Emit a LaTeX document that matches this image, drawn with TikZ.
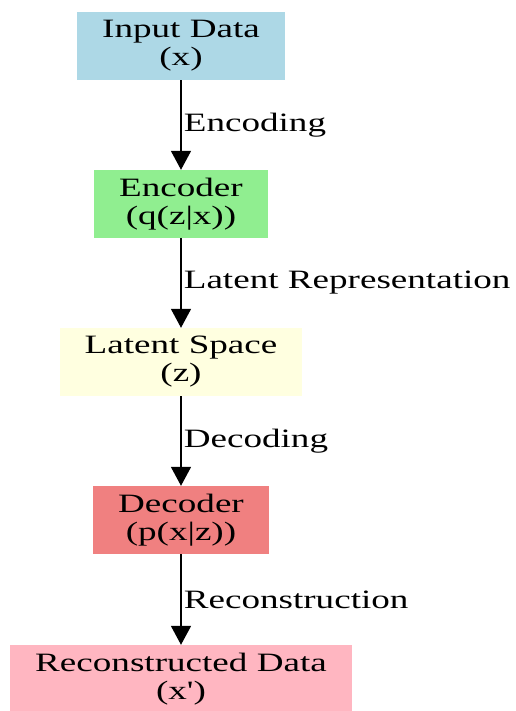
\documentclass[tikz,border=0pt]{standalone}
\usepackage{fontspec}
\setmainfont{Liberation Serif}
\newfontfamily\widefont[FakeStretch=1.4]{Liberation Serif}
\usetikzlibrary{arrows.meta, positioning}

\definecolor{inputblue}{RGB}{173,216,230}
\definecolor{encgreen}{RGB}{144,238,144}
\definecolor{latentyellow}{RGB}{255,255,224}
\definecolor{deccoral}{RGB}{240,128,128}
\definecolor{recpink}{RGB}{255,182,193}

\tikzset{
    stagebox/.style={fill=#1, align=center, minimum height=68pt, inner xsep=25pt,
        inner ysep=0pt, font=\widefont\fontsize{26.5}{28}\selectfont},
    flow/.style={line width=1.7pt, -{Triangle[width=20pt,length=19pt]}},
    flowlabel/.style={anchor=west, inner sep=0pt, xshift=2pt,
        font=\widefont\fontsize{26.5}{28}\selectfont}
}

\begin{document}
\begin{tikzpicture}[x=1pt, y=1pt]
    \useasboundingbox (0,0) rectangle (515,-711);

    \node[stagebox=inputblue] (input) at (181,-46) {Input Data\\(x)};
    \node[stagebox=encgreen] (encoder) at (181,-204) {Encoder\\(q(z|x))};
    \node[stagebox=latentyellow] (latent) at (181,-362) {Latent Space\\(z)};
    \node[stagebox=deccoral] (decoder) at (181,-520) {Decoder\\(p(x|z))};
    \node[stagebox=recpink] (recon) at (181,-679) {Reconstructed Data\\(x')};

    \draw[flow] (input) -- node[flowlabel] {Encoding} (encoder);
    \draw[flow] (encoder) -- node[flowlabel] {Latent Representation} (latent);
    \draw[flow] (latent) -- node[flowlabel] {Decoding} (decoder);
    \draw[flow] (decoder) -- node[flowlabel] {Reconstruction} (recon);
\end{tikzpicture}
\end{document}
